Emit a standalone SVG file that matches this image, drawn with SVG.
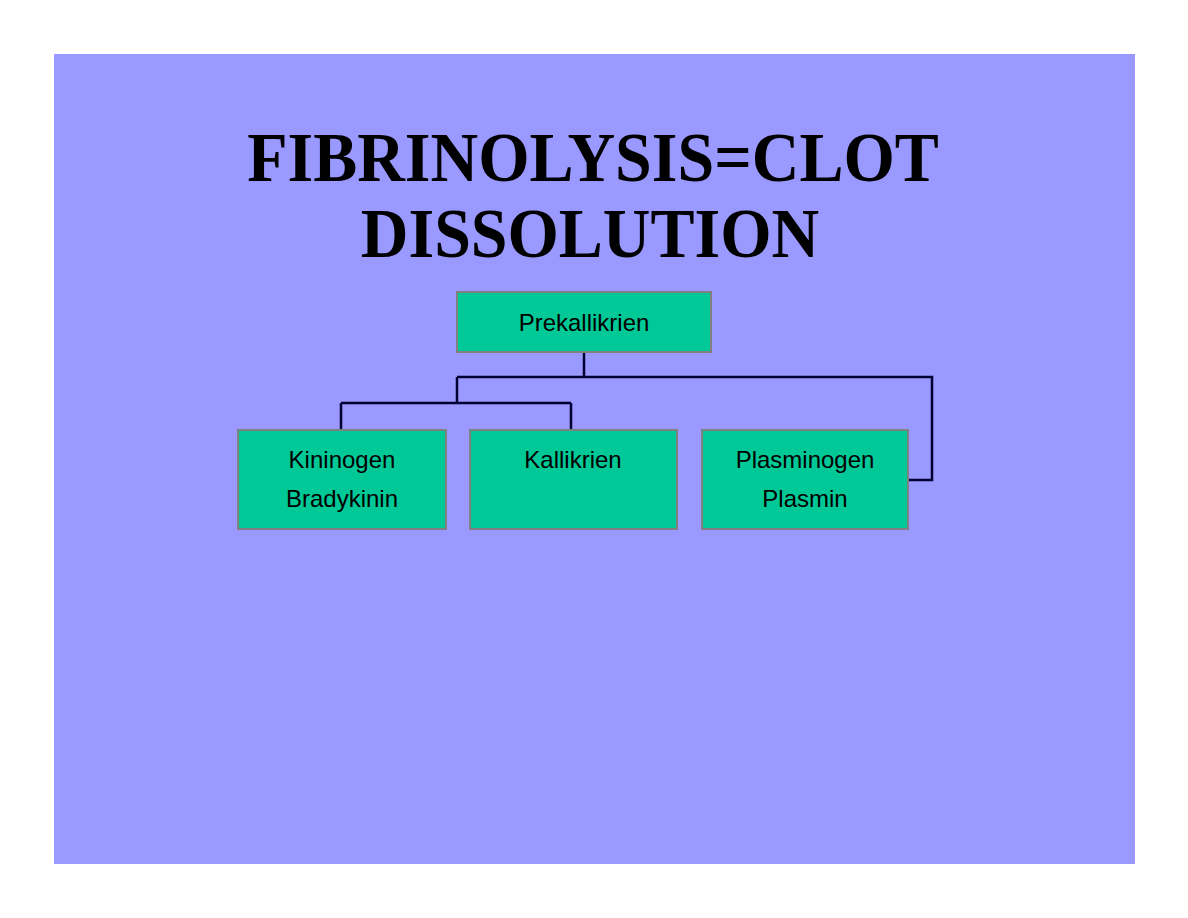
<svg xmlns="http://www.w3.org/2000/svg" width="1188" height="918" viewBox="0 0 1188 918">
<style>
.box{fill:#00c896;stroke:#808080;stroke-width:2}
.t{font-family:"Liberation Sans",Arial,sans-serif;font-size:24px;fill:#000;text-anchor:middle}
.h{font-family:"Liberation Serif","Times New Roman",serif;font-size:66px;font-weight:bold;fill:#000;text-anchor:middle}
.c{fill:none;stroke:#000033;stroke-width:2.5}
</style>
<rect width="1188" height="918" fill="#fff"/>
<rect x="54" y="54" width="1081" height="810" fill="#9999ff"/>
<text class="h" transform="translate(593 181) scale(1 1.05)">FIBRINOLYSIS=CLOT</text>
<text class="h" transform="translate(590 257) scale(1 1.05)">DISSOLUTION</text>
<g id="connectors">
<path class="c" d="M584 352V377M457 377H932V480H908M457 377V403M341 403H571M341 403V430M571 403V430"/>
</g>
<g id="prekallikrien"><rect class="box" x="457" y="292" width="254" height="60"/><text class="t" x="584" y="331">Prekallikrien</text></g>
<g id="kininogen"><rect class="box" x="238" y="430" width="208" height="99"/><text class="t" x="342" y="468">Kininogen</text><text class="t" x="342" y="507">Bradykinin</text></g>
<g id="kallikrien"><rect class="box" x="470" y="430" width="207" height="99"/><text class="t" x="573" y="468">Kallikrien</text></g>
<g id="plasminogen"><rect class="box" x="702" y="430" width="206" height="99"/><text class="t" x="805" y="468">Plasminogen</text><text class="t" x="805" y="507">Plasmin</text></g>
</svg>
